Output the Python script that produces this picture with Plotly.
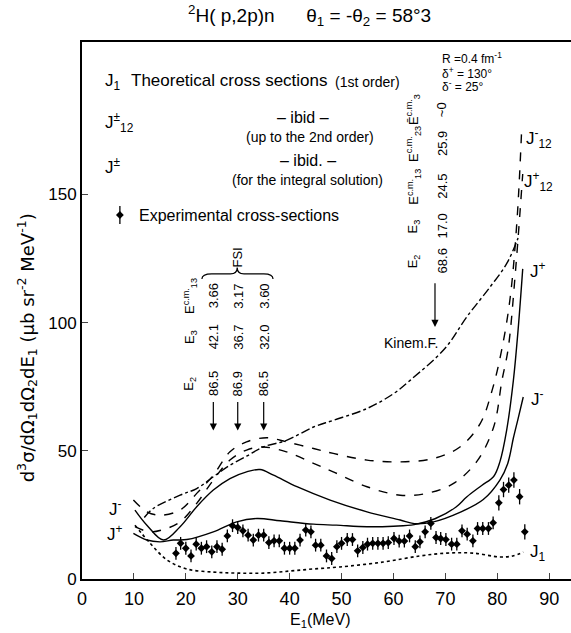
import plotly.graph_objects as go

# ---------------- data ----------------
x_J1 = [10.2, 13.1, 16.4, 20.2, 25.3, 29.9, 35, 40, 44.5, 49.7, 58, 65.1, 70.3, 75.3, 80.5, 83, 85]
y_J1 = [21, 14, 7.4, 3.9, 2.7, 2.3, 2.3, 3.1, 3.9, 4.7, 6.6, 9, 10.1, 10.1, 8.6, 9, 10.5]

x_Jm = [10.2, 12.5, 15.7, 18.9, 22.1, 25.3, 28.5, 31.7, 34.3, 36.9, 41.4, 47.8, 54.9, 61.3, 64.0, 67.7, 72.8, 77.3, 80.5, 82.0, 83.1, 84.0, 85.0]
y_Jm = [26.9, 21.0, 15.2, 20.4, 28.2, 34.7, 39.2, 41.8, 42.7, 40.5, 36.0, 30.8, 26.2, 23.0, 21.6, 22.3, 26.0, 31.0, 38.6, 45.0, 55.0, 62.5, 71.0]

x_Jp = [9.9, 12.5, 15.0, 17.6, 20.2, 25.3, 29.8, 33.7, 38.2, 44.6, 49.0, 54.9, 60.0, 64.0, 68.0, 72.0, 74.1, 77.0, 79.3, 80.5, 81.8, 83.1, 84.0, 84.9]
y_Jp = [17.8, 15.2, 14.5, 15.2, 15.4, 18.4, 22.3, 23.6, 22.7, 21.4, 21.0, 20.4, 20.6, 21.2, 23.5, 28.0, 32.0, 36.5, 40.0, 45.7, 58.0, 77.5, 97.0, 121.0]

x_J12m = [9.9, 12.5, 15.0, 18.9, 22.1, 25.3, 28.5, 31.7, 35.6, 39.4, 44.6, 48.4, 54.9, 61.3, 67.7, 72.8, 76.7, 79.0, 80.9, 82.5, 83.8, 84.7]
y_J12m = [30.8, 26.2, 24.9, 26.9, 33.4, 40.5, 49.6, 53.5, 55.1, 53.5, 50.9, 49.0, 46.4, 45.7, 47.0, 51.5, 60.6, 73.6, 89.9, 110.0, 140.0, 175.5]

x_J12p = [10.2, 13.1, 16.3, 18.9, 22.1, 25.3, 28.5, 31.7, 34.9, 39.4, 44.6, 48.4, 54.9, 61.3, 66.4, 71.5, 76.0, 79.3, 80.9, 82.1, 83.5, 84.9]
y_J12p = [20.4, 18.4, 19.7, 22.3, 29.5, 38.6, 46.4, 50.3, 51.5, 49.6, 45.1, 41.8, 36.0, 32.7, 33.4, 37.2, 45.7, 59.3, 77.5, 89.9, 120.0, 158.0]

x_kin = [12.0, 13.7, 18.9, 22.1, 25.3, 28.5, 31.7, 34.9, 39.4, 44.6, 48.4, 54.9, 60.0, 63.2, 69.9, 74.1, 78.6, 81.8, 84.0]
y_kin = [24.0, 27.5, 32.7, 35.3, 39.9, 44.4, 47.9, 51.5, 54.1, 59.3, 61.9, 66.5, 72.3, 77.5, 89.9, 102.2, 113.9, 123.0, 133.0]

x_exp = [18.1, 19.0, 20.0, 21.0, 22.0, 23.0, 24.0, 25.0, 26.0, 27.0, 28.0, 29.0, 30.0, 31.0, 32.0, 33.0, 34.0,
         35.0, 36.0, 37.0, 38.0, 39.0, 40.0, 41.0, 42.0, 43.1, 44.1, 45.0, 46.0, 47.1, 48.1, 49.1, 50.0, 51.1,
         52.1, 53.1, 54.1, 55.0, 56.0, 57.0, 58.0, 59.0, 60.1, 61.1, 62.1, 63.1, 64.2, 65.1, 66.1, 67.2, 68.2,
         69.1, 70.1, 71.2, 72.2, 73.2, 74.2, 75.3, 76.2, 77.2, 78.3, 79.2, 80.3, 81.2, 82.2, 83.2, 84.3, 85.3]
y_exp = [10.0, 13.9, 12.0, 9.0, 13.6, 12.0, 12.6, 10.6, 12.6, 11.6, 16.8, 20.8, 20.1, 18.8, 17.1, 15.2, 17.1,
         17.1, 14.2, 14.9, 14.9, 12.0, 12.0, 12.0, 15.2, 19.1, 18.4, 13.2, 13.2, 9.0, 8.0, 12.6, 13.9, 15.4,
         15.4, 11.0, 12.3, 13.6, 13.9, 13.9, 13.9, 14.2, 15.8, 14.8, 14.8, 16.8, 12.6, 14.5, 18.4, 21.7, 16.2,
         15.8, 15.4, 13.6, 13.6, 18.8, 17.5, 14.9, 19.7, 19.7, 19.7, 21.9, 29.7, 34.9, 36.6, 38.6, 32.1, 18.4]
e_exp = [2.5, 2.5, 2.5, 2.5, 2.5, 2.5, 2.5, 2.5, 2.5, 2.5, 2.5, 2.5, 2.5, 2.5, 2.5, 2.5, 2.5,
         2.5, 2.5, 2.5, 2.5, 2.5, 2.5, 2.5, 2.5, 2.5, 2.5, 2.5, 2.5, 2.5, 2.5, 2.5, 2.5, 2.5,
         2.5, 2.5, 2.5, 2.5, 2.5, 2.5, 2.5, 2.5, 2.5, 2.5, 2.5, 2.5, 2.5, 2.5, 2.5, 2.5, 2.5,
         2.5, 2.5, 2.5, 2.5, 2.5, 2.5, 2.5, 2.5, 2.5, 2.5, 2.5, 3.0, 3.0, 3.0, 3.0, 3.0, 3.0]

# FSI arrows and table
fsi_E1 = [25.3, 30.0, 35.0]
fsi_E13 = ["3.66", "3.17", "3.60"]
fsi_E3 = ["42.1", "36.7", "32.0"]
fsi_E2 = ["86.5", "86.9", "86.5"]
qfs_E1 = 68.0
qfs_labels = ["E<sub>2</sub>", "E<sub>3</sub>", "E<sup>c.m.</sup><sub>13</sub>", "E<sup>c.m.</sup><sub>23</sub>", "Ē<sup>c.m.</sup><sub>3</sub>"]
qfs_values = ["68.6", "17.0", "24.5", "25.9", "~0"]

x_ticks = [0, 10, 20, 30, 40, 50, 60, 70, 80, 90]
y_ticks = [0, 50, 100, 150]

FONT = "Liberation Sans, Arial, sans-serif"
FONT_W = "DejaVu Sans, sans-serif"
BLK = "black"

fig = go.Figure()
line_w = 1.4
fig.add_trace(go.Scatter(x=x_J1, y=y_J1, mode="lines", line=dict(color=BLK, width=1.6, dash="dot", shape="spline")))
fig.add_trace(go.Scatter(x=x_Jm, y=y_Jm, mode="lines", line=dict(color=BLK, width=line_w, shape="spline")))
fig.add_trace(go.Scatter(x=x_Jp, y=y_Jp, mode="lines", line=dict(color=BLK, width=line_w, shape="spline")))
fig.add_trace(go.Scatter(x=x_J12m, y=y_J12m, mode="lines", line=dict(color=BLK, width=line_w, dash="dash", shape="spline")))
fig.add_trace(go.Scatter(x=x_J12p, y=y_J12p, mode="lines", line=dict(color=BLK, width=line_w, dash="dash", shape="spline")))
fig.add_trace(go.Scatter(x=x_kin, y=y_kin, mode="lines", line=dict(color=BLK, width=line_w, dash="dashdot", shape="spline")))
fig.add_trace(go.Scatter(x=x_exp, y=y_exp, mode="markers",
                         marker=dict(symbol="diamond", size=6, color=BLK),
                         error_y=dict(type="data", array=e_exp, color=BLK, thickness=1.3, width=0)))
# legend sample symbol for experimental points
fig.add_trace(go.Scatter(x=[7.3], y=[142], mode="markers",
                         marker=dict(symbol="diamond", size=6, color=BLK),
                         error_y=dict(type="data", array=[3.5], color=BLK, thickness=1.3, width=0)))

ann = []
def T(x, y, text, size=14, xa="center", ya="middle", angle=0, ref="x", fam=FONT):
    yref = "y" if ref == "x" else "paper"
    ann.append(dict(x=x, y=y, xref=ref, yref=yref, text=text, showarrow=False,
                    font=dict(family=fam, size=size, color=BLK), xanchor=xa, yanchor=ya, textangle=angle))

# title & axis titles (paper coordinates, outside the plot area)
T(0.466, 1.05, "<sup>2</sup>H( p,2p)n      θ<sub>1</sub> = -θ<sub>2</sub> = 58°3", size=19, ref="paper")
T(-0.112, 0.43, "d<sup>3</sup>σ/dΩ<sub>1</sub>dΩ<sub>2</sub>dE<sub>1</sub> (μb sr<sup>-2</sup> MeV<sup>-1</sup>)",
  size=18, angle=-90, ref="paper", fam=FONT_W)
T(0.487, -0.077, "E<sub>1</sub>(MeV)", size=16, ref="paper")

# legend block
T(4.0, 194.0, "J<sub>1</sub>", size=17, xa="left")
T(9.0, 194.5, "Theoretical cross sections", size=17, xa="left")
T(48.4, 194.0, "(1st order)", size=14, xa="left")
T(69.0, 203.3, "R =0.4 fm<sup>-1</sup>", size=12, xa="left")
T(69.0, 197.6, "δ<sup>+</sup> = 130°", size=12, xa="left")
T(69.0, 192.2, "δ<sup>-</sup> = 25°", size=12, xa="left")
T(4.0, 178, "J<sup>±</sup><sub>12</sub>", size=17, xa="left")
T(42.5, 180.2, "– ibid –", size=16)
T(44.0, 172.6, "(up to the 2nd order)", size=14)
T(4.0, 161, "J<sup>±</sup>", size=17, xa="left")
T(43.5, 163.2, "– ibid. –", size=16)
T(43.5, 155.6, "(for the integral solution)", size=14)
T(10.6, 142, "Experimental cross-sections", size=16, xa="left")

# curve labels
T(6.4, 27.6, "J<sup>-</sup>", size=17)
T(6.4, 17.8, "J<sup>+</sup>", size=17)
T(87.8, 10.0, "J<sub>1</sub>", size=17)
T(87.8, 70.7, "J<sup>-</sup>", size=17)
T(87.8, 120.5, "J<sup>+</sup>", size=17)
T(88.0, 155.0, "J<sup>+</sup><sub>12</sub>", size=17)
T(88.0, 172.0, "J<sup>-</sup><sub>12</sub>", size=17)
T(63.4, 92.0, "Kinem.F.", size=14)

# FSI table (rotated)
TS = 13
T(20.8, 110.4, "E<sup>c.m.</sup><sub>13</sub>", size=TS, angle=-90)
T(20.8, 94.4, "E<sub>3</sub>", size=TS, angle=-90)
T(20.8, 76.2, "E<sub>2</sub>", size=TS, angle=-90)
for xv, a, b, c in zip(fsi_E1, fsi_E13, fsi_E3, fsi_E2):
    T(xv, 110.4, a, size=TS, angle=-90)
    T(xv, 94.4, b, size=TS, angle=-90)
    T(xv, 76.2, c, size=TS, angle=-90)
    ann.append(dict(x=xv, y=57.9, ax=xv, ay=69.6, xref="x", yref="y", axref="x", ayref="y", text="",
                    showarrow=True, arrowhead=2, arrowsize=1.2, arrowwidth=1.2, arrowcolor=BLK))
T(29.9, 125.5, "FSI", size=TS, angle=-90)

# QFS table (rotated)
qfs_y = [124.0, 137.6, 153.1, 169.8, 183.0]
for yv, lab, val in zip(qfs_y, qfs_labels, qfs_values):
    T(63.8, yv, lab, size=TS, angle=-90)
    T(69.4, yv, val, size=TS, angle=-90)
ann.append(dict(x=qfs_E1, y=98.3, ax=qfs_E1, ay=116.0, xref="x", yref="y", axref="x", ayref="y", text="",
                showarrow=True, arrowhead=2, arrowsize=1.2, arrowwidth=1.2, arrowcolor=BLK))

shapes = [dict(type="path", xref="x", yref="y",
               path="M 23.1,117.0 Q 23.1,119.0 25.0,119.0 L 28.6,119.0 Q 29.9,119.0 29.9,121.5 "
                    "Q 29.9,119.0 31.2,119.0 L 35.0,119.0 Q 36.8,119.0 36.8,117.0",
               line=dict(color=BLK, width=1.2))]

fig.update_layout(
    width=571, height=633, showlegend=False,
    margin=dict(l=82, r=0, t=42, b=54),
    paper_bgcolor="white", plot_bgcolor="white",
    annotations=ann, shapes=shapes,
    font=dict(family=FONT, color=BLK),
    xaxis=dict(range=[0, 94.2], tickvals=x_ticks, ticks="inside", ticklen=6, tickwidth=1.3,
               showline=True, linecolor=BLK, linewidth=2, mirror=True, showgrid=False, zeroline=False,
               ticklabelstandoff=2, tickfont=dict(family=FONT, size=18, color=BLK)),
    yaxis=dict(range=[0, 209.5], tickvals=y_ticks, ticks="inside", ticklen=6, tickwidth=1.3,
               showline=True, linecolor=BLK, linewidth=2, showgrid=False, zeroline=False,
               tickfont=dict(family=FONT, size=17, color=BLK)),
)
fig.write_html("out.html", config={"displayModeBar": False},
               post_script="document.body.style.margin='0';document.body.style.overflow='hidden';")
